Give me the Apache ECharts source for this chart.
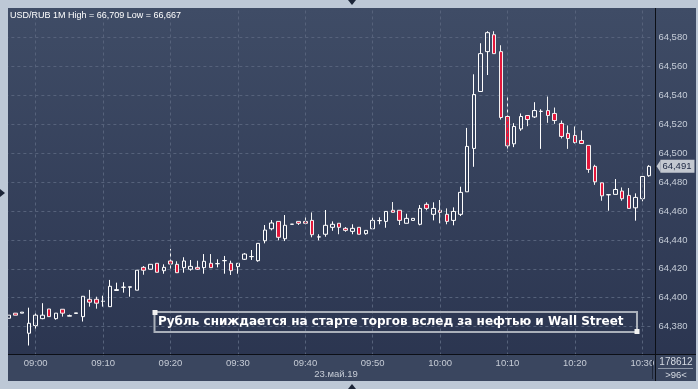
<!DOCTYPE html>
<html><head><meta charset="utf-8">
<script src="https://cdn.jsdelivr.net/npm/echarts/dist/echarts.min.js"></script>
<style>html,body{margin:0;padding:0;background:#bdc8d6}#c{width:698px;height:389px}</style>
</head><body><div id="c"></div>
<script>
const times = ["08:56","08:57","08:58","08:59",
"09:00","09:01","09:02","09:03","09:04","09:05","09:06","09:07","09:08","09:09",
"09:10","09:11","09:12","09:13","09:14","09:15","09:16","09:17","09:18","09:19",
"09:20","09:21","09:22","09:23","09:24","09:25","09:26","09:27","09:28","09:29",
"09:30","09:31","09:32","09:33","09:34","09:35","09:36","09:37","09:38","09:39",
"09:40","09:41","09:42","09:43","09:44","09:45","09:46","09:47","09:48","09:49",
"09:50","09:51","09:52","09:53","09:54","09:55","09:56","09:57","09:58","09:59",
"10:00","10:01","10:02","10:03","10:04","10:05","10:06","10:07","10:08","10:09",
"10:10","10:11","10:12","10:13","10:14","10:15","10:16","10:17","10:18","10:19",
"10:20","10:21","10:22","10:23","10:24","10:25","10:26","10:27","10:28","10:29",
"10:30","10:31"];

const opens = [
64.3858,64.3893,64.3893,64.3754,64.3807,64.3855,64.3922,64.3855,64.3920,64.3872,
64.3891,64.3869,64.3989,64.3989,64.3975,64.3938,64.4050,64.4072,64.4072,64.4052,
64.4210,64.4197,64.4238,64.4187,64.4254,64.4231,64.4208,64.4197,64.4210,64.4208,
64.4238,64.4235,64.4256,64.4238,64.4215,64.4266,64.4284,64.4256,64.4394,64.4477,
64.4528,64.4408,64.4508,64.4528,64.4528,64.4535,64.4420,64.4439,64.4487,64.4515,
64.4480,64.4459,64.4487,64.4443,64.4477,64.4533,64.4528,64.4605,64.4605,64.4515,
64.4535,64.4508,64.4646,64.4577,64.4605,64.4577,64.4535,64.4577,64.4733,64.5033,
64.5427,64.5703,64.5820,64.5703,64.5254,64.5065,64.5168,64.5261,64.5251,64.5289,
64.5295,64.5275,64.5206,64.5137,64.5123,64.5088,64.5054,64.4909,64.4795,64.4712,
64.4715,64.4738,64.4708,64.4622,64.4685,64.4844];
const closes = [
64.3879,64.3879,64.3900,64.3823,64.3879,64.3879,64.3869,64.3893,64.3893,64.3876,
64.3895,64.4010,64.3969,64.3962,64.3976,64.4079,64.4056,64.4073,64.4076,64.4190,
64.4190,64.4231,64.4176,64.4210,64.4233,64.4173,64.4254,64.4217,64.4197,64.4252,
64.4208,64.4236,64.4257,64.4187,64.4238,64.4302,64.4285,64.4376,64.4468,64.4517,
64.4418,64.4501,64.4509,64.4515,64.4515,64.4436,64.4421,64.4501,64.4508,64.4487,
64.4466,64.4480,64.4439,64.4466,64.4535,64.4534,64.4597,64.4591,64.4535,64.4549,
64.4549,64.4618,64.4618,64.4618,64.4591,64.4528,64.4597,64.4729,64.5047,64.5406,
64.5689,64.5834,64.5689,64.5247,64.5051,64.5185,64.5254,64.5233,64.5295,64.5290,
64.5261,64.5226,64.5116,64.5102,64.5074,64.5067,64.4888,64.4802,64.4705,64.4713,
64.4749,64.4685,64.4618,64.4694,64.4839,64.4909];
const lows = [
64.3858,64.3879,64.3893,64.3669,64.3777,64.3851,64.3869,64.3848,64.3869,64.3872,
64.3891,64.3835,64.3938,64.3924,64.3938,64.3938,64.4050,64.4035,64.4007,64.4052,
64.4159,64.4197,64.4176,64.4166,64.4197,64.4173,64.4173,64.4187,64.4192,64.4166,
64.4208,64.4210,64.4166,64.4157,64.4166,64.4261,64.4261,64.4249,64.4376,64.4466,
64.4397,64.4392,64.4508,64.4503,64.4508,64.4418,64.4397,64.4422,64.4463,64.4439,
64.4456,64.4439,64.4439,64.4436,64.4477,64.4508,64.4484,64.4591,64.4503,64.4515,
64.4535,64.4501,64.4605,64.4535,64.4515,64.4508,64.4501,64.4565,64.4733,64.4906,
64.5427,64.5541,64.5689,64.5233,64.5009,64.5042,64.5155,64.5187,64.5244,64.5030,
64.5210,64.5203,64.5102,64.5030,64.5067,64.5067,64.4864,64.4781,64.4671,64.4602,
64.4715,64.4671,64.4618,64.4533,64.4667,64.4837];
const highs = [
64.3879,64.3893,64.3900,64.3931,64.3897,64.3962,64.3922,64.3893,64.3920,64.3883,
64.3895,64.4010,64.4054,64.4007,64.4014,64.4123,64.4104,64.4107,64.4076,64.4190,
64.4219,64.4231,64.4238,64.4231,64.4338,64.4252,64.4280,64.4261,64.4256,64.4302,
64.4302,64.4266,64.4289,64.4256,64.4238,64.4309,64.4330,64.4376,64.4503,64.4537,
64.4528,64.4572,64.4509,64.4528,64.4570,64.4590,64.4439,64.4607,64.4528,64.4515,
64.4489,64.4508,64.4487,64.4466,64.4556,64.4556,64.4597,64.4662,64.4605,64.4581,
64.4549,64.4641,64.4660,64.4660,64.4676,64.4618,64.4625,64.4768,64.5175,64.5546,
64.5761,64.5844,64.5844,64.5747,64.5392,64.5208,64.5275,64.5261,64.5353,64.5304,
64.5392,64.5316,64.5226,64.5192,64.5185,64.5157,64.5054,64.4920,64.4795,64.4713,
64.4821,64.4763,64.4759,64.4722,64.4839,64.4917];

const gridTimes = ["09:00","09:10","09:20","09:30","09:40","09:50","10:00","10:10","10:20","10:30"];
const lastPrice = 64.491;
const titleText = "USD/RUB 1M High = 66,709 Low = 66,667";
const noteText = "Рубль сниждается на старте торгов вслед за нефтью и Wall Street";
const dateText = "23.май.19";
const cornerTop = "178612";
const cornerBottom = ">96<";

const candles = opens.map((o, i) => [o, closes[i], lows[i], highs[i]]);
const fmt = v => v.toFixed(3).replace('.', ',');

const chart = echarts.init(document.getElementById('c'), null, {renderer: 'canvas'});
const labelFont = 'Liberation Sans, Arial, sans-serif';
chart.setOption({
  animation: false,
  backgroundColor: '#bdc8d6',
  title: {
    text: titleText, left: 8, top: 9, padding: [2, 2],
    textStyle: {color: '#ffffff', fontSize: 9, fontWeight: 'normal', fontFamily: labelFont}
  },
  grid: {left: 5.37, width: 647.04, top: 8.7, height: 346.8, containLabel: false},
  xAxis: {
    type: 'category', data: times, boundaryGap: true, z: 5,
    axisLine: {show: false}, axisTick: {show: false}, splitLine: {show: false},
    axisLabel: {
      interval: (idx, val) => val.endsWith('0'),
      color: '#c6ccd6', fontSize: 9.5, fontFamily: labelFont, margin: 3
    }
  },
  yAxis: {
    type: 'value', position: 'right', min: 64.36, max: 64.60, interval: 0.02, scale: true,
    axisLine: {show: false}, axisTick: {show: false},
    splitLine: {show: true, showMinLine: false, showMaxLine: false,
      lineStyle: {color: '#56627b', type: [3, 3], width: 1}},
    axisLabel: {
      formatter: fmt, color: '#c6cdd8', fontSize: 9.5, fontFamily: labelFont, margin: 6,
      showMinLabel: false, showMaxLabel: false
    }
  },
  graphic: [
    {type: 'rect', z: -10, shape: {x: 8, y: 8, width: 688, height: 373},
     style: {fill: new echarts.graphic.LinearGradient(0, 0, 0, 1, [
       {offset: 0, color: '#3f4c66'}, {offset: 1, color: '#2a344f'}])}},
    {type: 'rect', z: 1, shape: {x: 8, y: 354.5, width: 688, height: 26.5},
     style: {fill: '#3a465f'}},
    {type: 'rect', z: 10, shape: {x: 0, y: 0, width: 8, height: 389}, style: {fill: '#bdc8d6'}},
    {type: 'line', z: 6, shape: {x1: 8, y1: 354.5, x2: 696, y2: 354.5}, style: {stroke: '#0c0f16', lineWidth: 1}},
    {type: 'line', z: 6, shape: {x1: 655.5, y1: 8, x2: 655.5, y2: 381}, style: {stroke: '#0c0f16', lineWidth: 1}},
    {type: 'line', z: 6, shape: {x1: 652.5, y1: 360, x2: 652.5, y2: 379}, style: {stroke: '#1f2738', lineWidth: 1}},
    {type: 'line', z: 6, shape: {x1: 658, y1: 368.5, x2: 693, y2: 368.5}, style: {stroke: '#8d97a8', lineWidth: 1}},
    {type: 'text', z: 6, style: {text: cornerTop, x: 676, y: 362, align: 'center', verticalAlign: 'middle',
      fill: '#d6dbe3', font: '10px Liberation Sans, Arial, sans-serif'}},
    {type: 'text', z: 6, style: {text: cornerBottom, x: 676, y: 375, align: 'center', verticalAlign: 'middle',
      fill: '#d6dbe3', font: '9.5px Liberation Sans, Arial, sans-serif'}},
    {type: 'text', z: 6, style: {text: dateText, x: 336, y: 374, align: 'center', verticalAlign: 'middle',
      fill: '#c6ccd6', font: '9.5px Liberation Sans, Arial, sans-serif'}},
    {type: 'polygon', z: 11, shape: {points: [[348, 0], [356, 0], [352, 5]]}, style: {fill: '#1c2538'}},
    {type: 'polygon', z: 11, shape: {points: [[348, 389], [356, 389], [352, 384]]}, style: {fill: '#1c2538'}},
    {type: 'polygon', z: 11, shape: {points: [[0, 189], [0, 197], [5, 193]]}, style: {fill: '#1c2538'}},
    {type: 'rect', z: 7, shape: {x: 154.5, y: 312, width: 482.5, height: 20},
     style: {fill: 'none', stroke: '#aab0ba', lineWidth: 2}},
    {type: 'rect', z: 8, shape: {x: 152.5, y: 310, width: 5, height: 5}, style: {fill: '#f2f2f2'}},
    {type: 'rect', z: 8, shape: {x: 634.5, y: 329, width: 5, height: 5}, style: {fill: '#f2f2f2'}},
    {type: 'text', z: 8, style: {text: noteText, x: 158, y: 322, align: 'left', verticalAlign: 'middle',
      fill: '#ffffff', font: 'bold 12px DejaVu Sans, Verdana, sans-serif'}}
  ],
  series: [{
    type: 'candlestick',
    data: candles,
    barWidth: 4,
    clip: true,
    itemStyle: {color: 'rgba(0,0,0,0)', color0: '#e3173b', borderColor: '#ffffff', borderColor0: '#f2f2f2', borderWidth: 1},
    markLine: {
      silent: true, symbol: 'none', animation: false, precision: 3,
      label: {show: false},
      lineStyle: {color: '#56627b', type: [3, 3], width: 1},
      data: gridTimes.map(t => ({xAxis: t})).concat([{
        yAxis: lastPrice,
        lineStyle: {color: 'rgba(0,0,0,0)', width: 1, type: 'solid'},
        label: {show: true, position: 'end', distance: 8, formatter: fmt(lastPrice),
          backgroundColor: '#c3c8d0', color: '#1a2540', fontSize: 9.5, fontFamily: labelFont,
          padding: [2, 3, 1, 2], opacity: 1}
      }])
    },
    markPoint: {
      silent: true, animation: false, label: {show: false},
      symbol: 'triangle', symbolSize: [12, 4], symbolRotate: 90, symbolOffset: [9.5, 0],
      itemStyle: {color: '#c3c8d0'},
      data: [{coord: [times[times.length - 1], lastPrice]}]
    }
  }]
});
</script>
</body></html>
